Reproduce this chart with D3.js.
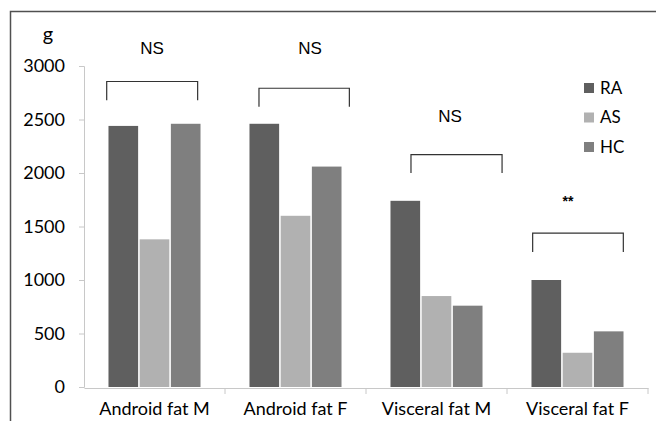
<!DOCTYPE html>
<html><head><meta charset="utf-8">
<script src="https://cdn.jsdelivr.net/npm/d3@7/dist/d3.min.js"></script>
<style>body{margin:0;background:#fff}svg{display:block}</style>
</head><body>
<svg id="c" width="656" height="421"></svg>
<script>
const categories = ["Android fat M", "Android fat F", "Visceral fat M", "Visceral fat F"];
const seriesNames = ["RA", "AS", "HC"];
const RA = [2440, 2460, 1740, 1000];
const AS = [1380, 1600, 850, 320];
const HC = [2460, 2060, 760, 520];
const yTicks = [0, 500, 1000, 1500, 2000, 2500, 3000];
const sigLabels = ["NS", "NS", "NS", "**"];
// annotation positions in category units (x) and data units (y)
const sigLabelX = [0.482, 1.603, 2.596, 3.433];
const sigLabelY = [3115, 3115, 2480, 1690];
const bracketX0 = [0.161, 1.241, 2.319, 3.182];
const bracketX1 = [0.806, 1.882, 2.965, 3.825];
const bracketTop = [2855, 2792, 2171, 1438];
const bracketBottom = [2680, 2618, 2000, 1261];

const colors = {RA: "#5f5f5f", AS: "#b1b1b1", HC: "#7f7f7f"};
const seriesData = {RA, AS, HC};
const svg = d3.select("#c");
const mLeft = 84, mRight = 648, mTop = 66, mBottom = 387;
const font = "Lato, 'Open Sans', sans-serif";

// frame
svg.append("path").attr("d", "M10.5,421V11.5H656").attr("fill", "none")
  .attr("stroke", "#505050").attr("stroke-width", 1.5);

const x0 = d3.scaleBand().domain(categories).range([mLeft, mRight]).paddingInner(0).paddingOuter(0);
const x1 = d3.scaleBand().domain(seriesNames).range([0, x0.bandwidth()]).paddingInner(0.05).paddingOuter(0.785);
const xc = d3.scaleLinear().domain([0, 4]).range([mLeft, mRight]);
const y = d3.scaleLinear().domain([0, 3000]).range([mBottom, mTop]);

// y axis
const ya = svg.append("g").attr("transform", `translate(${mLeft},0)`)
  .call(d3.axisLeft(y).tickValues(yTicks).tickFormat(d3.format("d")).tickSize(5).tickPadding(14));
ya.select(".domain").attr("stroke", "#c8c8c8");
ya.selectAll(".tick line").attr("stroke", "#c8c8c8");
ya.selectAll(".tick text").attr("fill", "#000").style("font-family", font).style("font-size", "18px");

// bars
const g = svg.append("g");
categories.forEach((c, i) => {
  seriesNames.forEach(s => {
    g.append("rect")
      .attr("x", x0(c) + x1(s))
      .attr("y", y(seriesData[s][i]))
      .attr("width", x1.bandwidth())
      .attr("height", y(0) - y(seriesData[s][i]))
      .attr("fill", colors[s]);
  });
});

// x axis
const xa = svg.append("g").attr("transform", `translate(0,${mBottom + 1})`)
  .call(d3.axisBottom(x0).tickSize(0).tickPadding(14));
xa.select(".domain").attr("stroke", "#c8c8c8");
xa.selectAll(".tick text").attr("fill", "#000").style("font-family", font).style("font-size", "18px");
xa.selectAll(".btick").data(d3.range(1, 5)).enter().append("line").attr("class", "btick")
  .attr("x1", d => xc(d)).attr("x2", d => xc(d)).attr("y1", 0).attr("y2", 6)
  .attr("stroke", "#c8c8c8");

// y unit label
svg.append("text").attr("x", 48).attr("y", 41).attr("text-anchor", "middle")
  .style("font-family", font).style("font-size", "20px").attr("fill", "#000").text("g");

// brackets
categories.forEach((c, i) => {
  const xa0 = xc(bracketX0[i]), xa1 = xc(bracketX1[i]);
  svg.append("path")
    .attr("d", `M${xa0},${y(bracketBottom[i])}V${y(bracketTop[i])}H${xa1}V${y(bracketBottom[i])}`)
    .attr("fill", "none").attr("stroke", "#333").attr("stroke-width", 1.2);
  const star = sigLabels[i] === "**";
  svg.append("text").attr("x", xc(sigLabelX[i])).attr("y", y(sigLabelY[i]))
    .attr("text-anchor", "middle")
    .style("font-family", "'Liberation Sans', Arial, sans-serif")
    .style("font-size", star ? "14px" : "17px")
    .style("font-weight", star ? "bold" : "normal")
    .attr("fill", "#000").text(sigLabels[i]);
});

// legend
const lg = svg.append("g").attr("transform", "translate(584,83)");
seriesNames.forEach((s, i) => {
  lg.append("rect").attr("x", 0).attr("y", i * 29.5).attr("width", 10).attr("height", 10).attr("fill", colors[s]);
  lg.append("text").attr("x", 16).attr("y", i * 29.5 + 10.5)
    .style("font-family", font).style("font-size", "17px").attr("fill", "#000").text(s);
});
</script>
</body></html>
